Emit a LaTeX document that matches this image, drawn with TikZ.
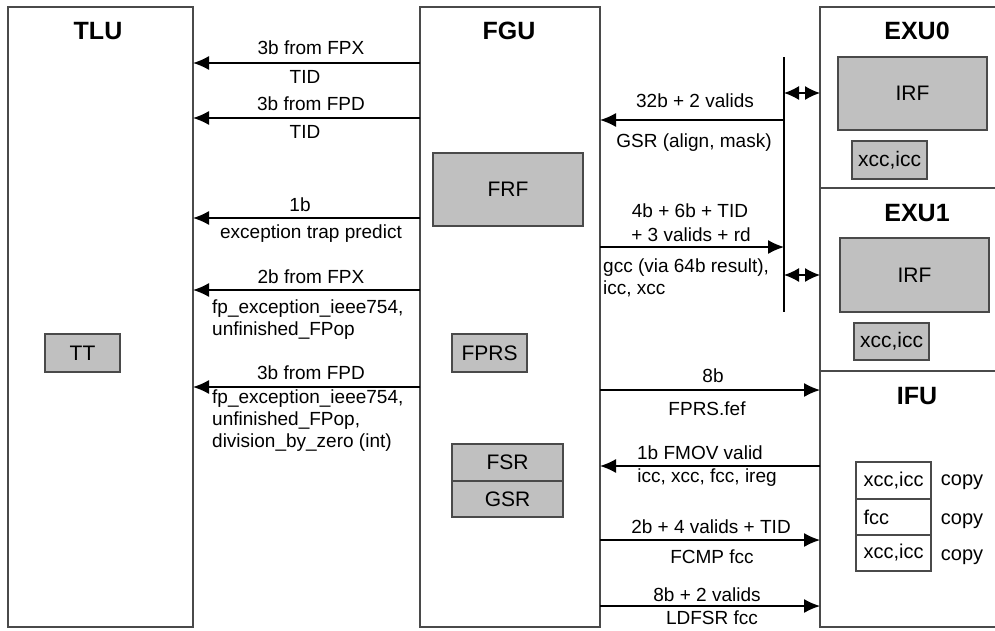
\documentclass[tikz,border=0pt]{standalone}
\usepackage{fontspec}
\setmainfont{Liberation Sans}
\usetikzlibrary{arrows.meta}
\definecolor{regfill}{HTML}{C0C0C0}
\definecolor{edge}{HTML}{4A4A4A}
\tikzset{
  unit/.style={draw=edge, line width=1.8pt, fill=white, inner sep=0pt, outer sep=0pt, anchor=north west},
  reg/.style={draw=edge, line width=1.6pt, fill=regfill, inner sep=0pt, outer sep=0pt, anchor=north west, font=\fontsize{21}{24}\selectfont},
  cell/.style={draw=edge, line width=1.4pt, fill=white, inner sep=0pt, outer sep=0pt, anchor=north west, font=\fontsize{20}{24}\selectfont},
  title/.style={font=\fontsize{25}{28}\selectfont\bfseries, inner sep=0pt},
  lbl/.style={font=\fontsize{19}{22}\selectfont, inner sep=0pt},
  mlbl/.style={font=\fontsize{19}{22}\selectfont, inner sep=0pt, align=left, anchor=north west},
  arr/.style={line width=1.4pt, -{Latex[length=16pt,width=14pt]}},
  darr/.style={line width=1.4pt, {Latex[length=15pt,width=14pt]}-{Latex[length=15pt,width=14pt]}},
}
\begin{document}
\begin{tikzpicture}[x=1pt,y=-1pt]
\useasboundingbox (0,0) rectangle (995,630);
\clip (0,0) rectangle (995,630);
\fill[white] (0,0) rectangle (995,630);

% big units
\node[unit, minimum width=185pt, minimum height=620pt] (TLU) at (8,7) {};
\node[unit, minimum width=180pt, minimum height=620pt] (FGU) at (420,7) {};
\node[unit, minimum width=200pt, minimum height=181pt] (EXU0) at (820,7) {};
\node[unit, minimum width=200pt, minimum height=183pt] (EXU1) at (820,188) {};
\node[unit, minimum width=200pt, minimum height=256pt] (IFU) at (820,371) {};

% titles
\node[title] (tTLU) at (98,31) {TLU};
\node[title] (tFGU) at (509,31) {FGU};
\node[title] (tEXU0) at (917,31) {EXU0};
\node[title] (tEXU1) at (917,213) {EXU1};
\node[title] (tIFU) at (917,396) {IFU};

% registers
\node[reg, minimum width=75pt, minimum height=38pt] (TT) at (45,334) {TT};
\node[reg, minimum width=150pt, minimum height=73pt] (FRF) at (433,153) {FRF};
\node[reg, minimum width=75pt, minimum height=38pt] (FPRS) at (452,334) {FPRS};
\node[reg, minimum width=111pt, minimum height=37pt] (FSR) at (452,444) {FSR};
\node[reg, minimum width=111pt, minimum height=36pt] (GSR) at (452,481) {GSR};
\node[reg, minimum width=149pt, minimum height=73pt] (IRF0) at (838,57) {IRF};
\node[reg, minimum width=75pt, minimum height=38pt] (CC0) at (852,141) {xcc,icc};
\node[reg, minimum width=149pt, minimum height=74pt] (IRF1) at (840,238) {IRF};
\node[reg, minimum width=75pt, minimum height=37pt] (CC1) at (854,323) {xcc,icc};

% IFU table
\node[cell, minimum width=75pt, minimum height=37pt] (C1) at (856,462) {xcc,icc};
\node[cell, minimum width=75pt, minimum height=36pt] (C2) at (856,499) {\makebox[60pt][l]{fcc}};
\node[cell, minimum width=75pt, minimum height=36pt] (C3) at (856,535) {xcc,icc};
\node[lbl, font=\fontsize{20}{24}\selectfont] (cp1) at (962,482) {copy};
\node[lbl, font=\fontsize{20}{24}\selectfont] (cp2) at (962,521) {copy};
\node[lbl, font=\fontsize{20}{24}\selectfont] (cp3) at (962,557) {copy};

% bus
\coordinate (busT) at (784,57);
\coordinate (busB) at (784,312);
\draw[line width=1.4pt] (busT) -- (busB);

% arrows FGU -> TLU
\draw[arr] (FGU.west |- 0,63) -- (TLU.east |- 0,63);
\node[lbl] (l1a) at (311,48) {3b from FPX};
\node[lbl] (l1b) at (305,77) {TID};
\draw[arr] (FGU.west |- 0,118) -- (TLU.east |- 0,118);
\node[lbl] (l2a) at (311,104) {3b from FPD};
\node[lbl] (l2b) at (305,132) {TID};
\draw[arr] (FGU.west |- 0,218) -- (TLU.east |- 0,218);
\node[lbl] (l3a) at (300,205) {1b};
\node[lbl] (l3b) at (311,234) {exception trap predict};
\draw[arr] (FGU.west |- 0,290) -- (TLU.east |- 0,290);
\node[lbl] (l4a) at (311,277) {2b from FPX};
\node[mlbl] (l4b) at (212,300) {fp\_exception\_ieee754,\\unfinished\_FPop};
\draw[arr] (FGU.west |- 0,387) -- (TLU.east |- 0,387);
\node[lbl] (l5a) at (311,373) {3b from FPD};
\node[mlbl] (l5b) at (212,390) {fp\_exception\_ieee754,\\unfinished\_FPop,\\division\_by\_zero (int)};

% bus <-> EXUs
\draw[darr] (busT |- 0,93) -- (EXU0.west |- 0,93);
\draw[darr] (busT |- 0,275) -- (EXU1.west |- 0,275);

% right side arrows
\draw[arr] (busT |- 0,120) -- (FGU.east |- 0,120);
\node[lbl] (r1a) at (695,101) {32b + 2 valids};
\node[lbl] (r1b) at (694,143) {GSR (align, mask)};
\draw[arr] (FGU.east |- 0,247) -- (busT |- 0,247);
\node[lbl] (r2a) at (690,211) {4b + 6b + TID};
\node[lbl] (r2b) at (691,235) {+ 3 valids + rd};
\node[mlbl] (r2c) at (603,259) {gcc (via 64b result),\\icc, xcc};
\draw[arr] (FGU.east |- 0,390) -- (IFU.west |- 0,390);
\node[lbl] (r3a) at (713,376) {8b};
\node[lbl] (r3b) at (707,409) {FPRS.fef};
\draw[arr] (IFU.west |- 0,466) -- (FGU.east |- 0,466);
\node[lbl] (r4a) at (700,453) {1b FMOV valid};
\node[lbl] (r4b) at (707,478) {icc, xcc, fcc, ireg};
\draw[arr] (FGU.east |- 0,540) -- (IFU.west |- 0,540);
\node[lbl] (r5a) at (711,527) {2b + 4 valids + TID};
\node[lbl] (r5b) at (712,557) {FCMP fcc};
\draw[arr] (FGU.east |- 0,606) -- (IFU.west |- 0,606);
\node[lbl] (r6a) at (707,595) {8b + 2 valids};
\node[lbl] (r6b) at (712,618) {LDFSR fcc};
\end{tikzpicture}
\end{document}
